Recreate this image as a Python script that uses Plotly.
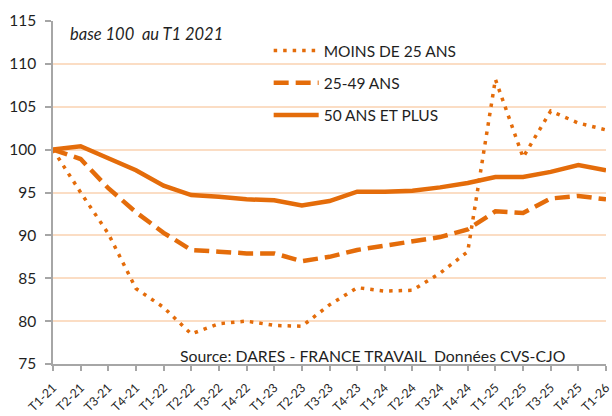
import plotly.graph_objects as go

quarters = ["T1-21", "T2-21", "T3-21", "T4-21", "T1-22", "T2-22", "T3-22", "T4-22",
            "T1-23", "T2-23", "T3-23", "T4-23", "T1-24", "T2-24", "T3-24", "T4-24",
            "T1-25", "T2-25", "T3-25", "T4-25", "T1-26"]

moins_25 = [100, 95.0, 90.2, 83.8, 81.6, 78.5, 79.7, 80.0, 79.5, 79.4, 81.9,
            83.9, 83.5, 83.6, 85.6, 88.1, 108.2, 99.1, 104.5, 103.1, 102.3]
ans_25_49 = [100, 98.9, 95.5, 92.7, 90.3, 88.3, 88.1, 87.9, 87.9, 87.0, 87.5,
             88.3, 88.8, 89.3, 89.8, 90.7, 92.8, 92.6, 94.3, 94.6, 94.2]
ans_50_plus = [100, 100.4, 99.0, 97.6, 95.8, 94.7, 94.5, 94.2, 94.1, 93.5, 94.0,
               95.1, 95.1, 95.2, 95.6, 96.1, 96.8, 96.8, 97.4, 98.2, 97.6]

series_names = ["MOINS DE 25 ANS", "25-49 ANS", "50 ANS ET PLUS"]
y_ticks = [75, 80, 85, 90, 95, 100, 105, 110, 115]

ORANGE = "#E46C0A"
FONT = "Lato, 'Open Sans', sans-serif"
TXT = "#1f1f1f"

fig = go.Figure()
fig.add_trace(go.Scatter(x=quarters, y=moins_25, name=series_names[0], mode="lines",
                         line=dict(color=ORANGE, width=3.5, dash="3.5px,6px"),
                         legendgroup="a"))
fig.add_trace(go.Scatter(x=quarters, y=ans_25_49, name=series_names[1], mode="lines",
                         line=dict(color=ORANGE, width=4.5, dash="15px,7px"),
                         legendgroup="b"))
fig.add_trace(go.Scatter(x=quarters, y=ans_50_plus, name=series_names[2], mode="lines",
                         line=dict(color=ORANGE, width=4.5),
                         legendgroup="c"))

fig.update_layout(
    width=612, height=416,
    margin=dict(l=53, r=6, t=21, b=52),
    paper_bgcolor="white", plot_bgcolor="white",
    font=dict(family=FONT, size=15, color=TXT),
    showlegend=True,
    legend=dict(x=0.39, y=0.962, xanchor="left", yanchor="top",
                bgcolor="rgba(0,0,0,0)", font=dict(size=15.5, color=TXT),
                tracegroupgap=9, itemwidth=45),
    xaxis=dict(type="category", range=[0, 20], showgrid=False, automargin=False,
               showline=True, linecolor="#a6a6a6", linewidth=1.5,
               ticks="outside", ticklen=5, tickcolor="#a6a6a6", tickwidth=1.5,
               tickangle=-45, tickfont=dict(size=12.3, color=TXT),
               ticklabelstandoff=5),
    yaxis=dict(range=[75, 115], tickvals=y_ticks, showgrid=True, automargin=False,
               gridcolor="#FBDDC4", gridwidth=1.5, zeroline=False,
               showline=True, linecolor="#a6a6a6", linewidth=1.5,
               ticks="outside", ticklen=6, tickcolor="#a6a6a6", tickwidth=1.5,
               tickfont=dict(size=15.5, color=TXT), ticklabelstandoff=6),
    annotations=[
        dict(text="<i>base 100  au T1 2021</i>", xref="paper", yref="paper",
             x=0.027, y=0.962, xanchor="left", yanchor="middle", showarrow=False,
             font=dict(size=16.5, color=TXT)),
        dict(text="Source: DARES - FRANCE TRAVAIL  Données CVS-CJO", xref="paper",
             yref="paper", x=0.93, y=0.024, xanchor="right", yanchor="middle",
             showarrow=False, font=dict(size=15.8, color=TXT)),
    ],
)

fig.write_html("out.html", config={"displayModeBar": False},
               post_script="document.body.style.margin='0';document.body.style.overflow='hidden';")
